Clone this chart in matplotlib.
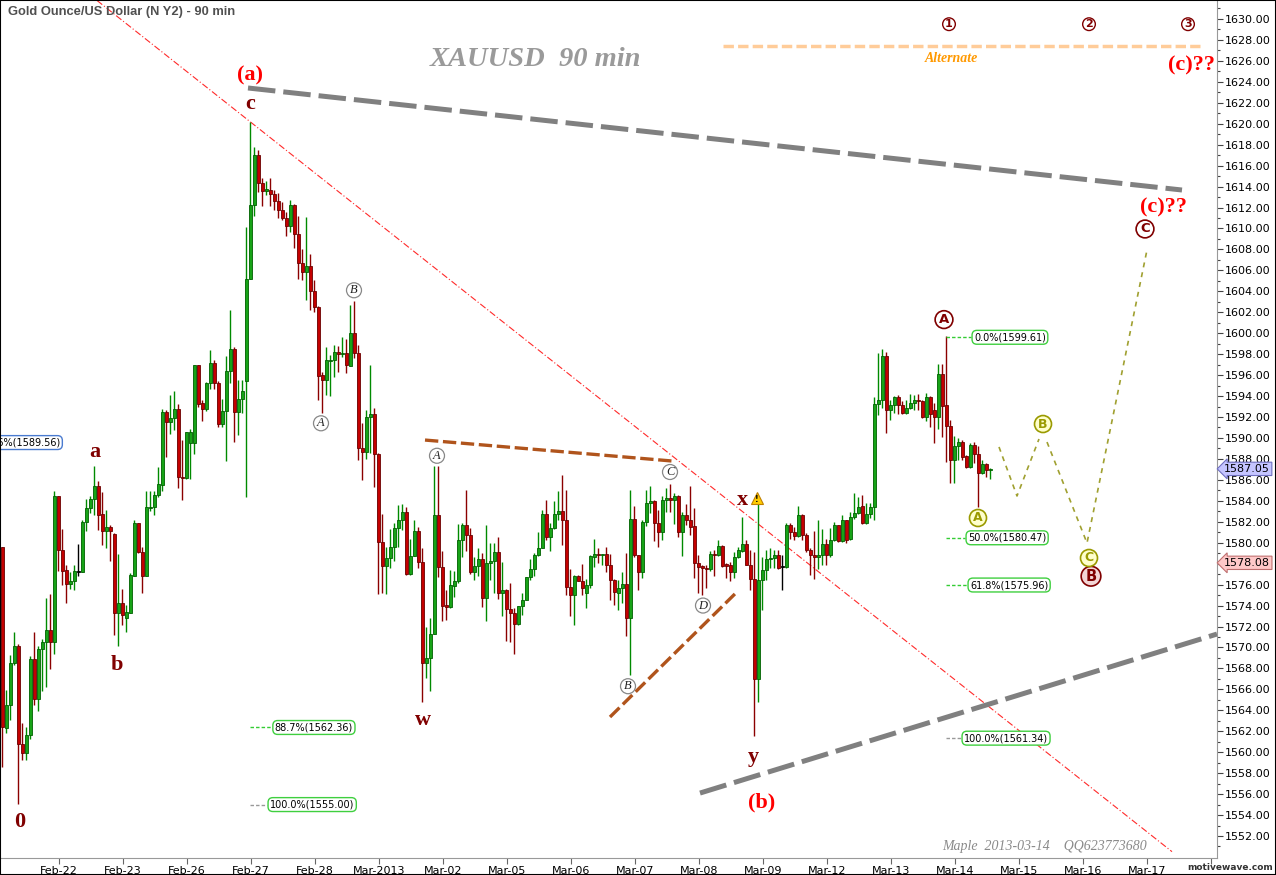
import numpy as np
import matplotlib
matplotlib.use('Agg')
import matplotlib.pyplot as plt
from matplotlib.patches import Rectangle
from matplotlib.transforms import blended_transform_factory

# 90-minute candles (one per bar, left to right)
opens = [1579.6, 1562.3, 1564.5, 1568.5, 1570.1, 1560.8, 1559.9, 1561.6, 1568.9, 1565.1,
         1569.9, 1570.5, 1571.7, 1570.5, 1584.5, 1579.3, 1577.4, 1576.1, 1576.3, 1577.2,
         1577.2, 1582.0, 1583.3, 1584.2, 1585.4, 1582.7, 1581.1, 1581.5, 1580.8, 1573.3,
         1574.2, 1572.8, 1573.3, 1576.8, 1581.9, 1579.1, 1576.8, 1583.3, 1583.4, 1584.6,
         1585.5, 1592.5, 1591.5, 1591.9, 1592.8, 1586.3, 1586.2, 1589.5, 1589.5, 1597.0,
         1593.3, 1592.8, 1595.2, 1597.2, 1595.2, 1591.3, 1592.6, 1596.4, 1598.5, 1592.5,
         1593.7, 1595.4, 1605.2, 1612.2, 1617.0, 1614.3, 1613.6, 1613.7, 1613.3, 1612.6,
         1611.8, 1611.0, 1610.2, 1612.2, 1609.5, 1606.7, 1605.8, 1606.4, 1604.0, 1602.5,
         1596.0, 1595.5, 1597.3, 1597.4, 1598.2, 1598.0, 1598.1, 1596.9, 1600.0, 1598.1,
         1589.0, 1588.7, 1592.0, 1592.3, 1588.5, 1580.1, 1577.8, 1578.5, 1579.6, 1581.4,
         1582.2, 1582.9, 1577.0, 1578.7, 1581.1, 1578.2, 1568.5, 1569.0, 1571.3, 1582.6,
         1577.7, 1574.0, 1573.9, 1575.9, 1576.3, 1580.3, 1581.7, 1580.7, 1577.2, 1577.8,
         1578.4, 1574.7, 1578.1, 1578.3, 1579.1, 1575.2, 1575.5, 1573.7, 1573.3, 1572.2,
         1574.0, 1574.5, 1576.7, 1577.5, 1578.8, 1579.5, 1582.7, 1580.5, 1581.4, 1582.7,
         1583.0, 1582.2, 1575.8, 1575.0, 1576.8, 1576.3, 1575.2, 1576.0, 1578.6, 1578.9,
         1578.8, 1578.9, 1577.9, 1576.4, 1575.2, 1575.7, 1576.1, 1572.8, 1582.3, 1578.8,
         1577.2, 1582.0, 1583.8, 1584.0, 1581.9, 1581.0, 1584.1, 1584.3, 1584.1, 1584.5,
         1581.0, 1582.6, 1582.2, 1581.6, 1578.1, 1577.8, 1577.6, 1577.5, 1578.9, 1578.8,
         1579.7, 1577.9, 1577.9, 1577.2, 1578.6, 1579.2, 1579.9, 1577.9, 1576.5, 1567.0,
         1576.4, 1577.4, 1578.4, 1578.5, 1578.8, 1577.65, 1577.7, 1581.7, 1581.0, 1580.6,
         1582.6, 1580.7, 1579.3, 1578.8, 1578.6, 1578.8, 1579.9, 1578.8, 1580.3, 1581.7,
         1580.2, 1582.2, 1580.4, 1582.5, 1582.8, 1583.5, 1581.9, 1582.7, 1583.4, 1593.2,
         1593.6, 1597.8, 1592.7, 1593.1, 1593.9, 1593.1, 1592.4, 1592.9, 1593.3, 1593.6,
         1593.5, 1592.0, 1593.9, 1592.7, 1592.0, 1596.1, 1593.1, 1591.1, 1587.9, 1589.2,
         1589.6, 1588.3, 1587.2, 1589.3, 1588.5, 1586.7, 1587.5, 1586.9]
highs = [1579.6, 1565.9, 1569.3, 1571.5, 1570.3, 1562.8, 1562.4, 1569.2, 1571.5, 1570.1,
         1570.8, 1574.7, 1575.1, 1584.9, 1584.5, 1581.3, 1577.9, 1577.2, 1577.9, 1579.9,
         1582.2, 1584.2, 1584.5, 1587.3, 1585.9, 1584.8, 1583.1, 1581.7, 1580.9, 1578.9,
         1575.6, 1574.1, 1577.1, 1582.2, 1581.9, 1579.6, 1584.9, 1584.9, 1584.9, 1587.2,
         1592.8, 1592.7, 1594.1, 1594.5, 1593.2, 1589.8, 1590.6, 1590.9, 1597.0, 1597.0,
         1593.6, 1595.3, 1598.4, 1597.4, 1595.4, 1593.7, 1597.8, 1602.2, 1598.7, 1595.5,
         1595.5, 1610.1, 1620.2, 1617.8, 1617.5, 1614.8, 1614.5, 1614.8, 1613.7, 1613.4,
         1612.5, 1611.6, 1612.7, 1612.3, 1611.2, 1608.0, 1611.1, 1607.6, 1605.1, 1602.6,
         1596.3, 1598.7, 1597.9, 1598.9, 1598.8, 1599.6, 1599.4, 1602.7, 1603.1, 1598.9,
         1591.4, 1592.7, 1597.0, 1592.9, 1588.6, 1582.7, 1579.6, 1581.3, 1581.9, 1583.6,
         1583.7, 1583.4, 1580.4, 1582.2, 1581.5, 1579.5, 1572.0, 1572.8, 1587.3, 1587.3,
         1579.2, 1575.5, 1577.4, 1577.3, 1581.8, 1581.9, 1585.0, 1581.4, 1578.6, 1579.5,
         1579.0, 1581.7, 1580.0, 1580.0, 1580.5, 1578.2, 1575.6, 1576.2, 1573.8, 1574.0,
         1575.2, 1576.7, 1578.4, 1579.0, 1581.0, 1583.1, 1584.1, 1581.9, 1584.0, 1584.9,
         1586.5, 1585.0, 1577.5, 1576.9, 1576.9, 1578.0, 1576.5, 1578.8, 1580.4, 1579.5,
         1578.9, 1579.6, 1578.9, 1576.5, 1576.4, 1577.2, 1579.0, 1585.0, 1583.5, 1578.8,
         1582.2, 1585.0, 1585.4, 1584.1, 1583.1, 1584.5, 1585.2, 1585.6, 1584.7, 1584.6,
         1582.9, 1583.7, 1585.4, 1583.3, 1578.8, 1577.9, 1577.9, 1579.2, 1579.3, 1580.3,
         1579.8, 1578.1, 1578.2, 1579.1, 1579.6, 1582.5, 1580.3, 1579.3, 1579.1, 1583.8,
         1578.6, 1579.3, 1579.5, 1579.3, 1579.3, 1578.8, 1581.9, 1581.9, 1581.5, 1583.5,
         1582.7, 1580.9, 1579.5, 1581.1, 1582.2, 1581.3, 1580.4, 1581.4, 1582.0, 1581.7,
         1582.6, 1582.2, 1582.9, 1584.7, 1584.4, 1584.6, 1583.8, 1583.8, 1593.9, 1598.1,
         1598.5, 1598.2, 1593.6, 1594.0, 1594.1, 1593.5, 1593.6, 1594.2, 1594.1, 1594.2,
         1593.6, 1594.3, 1594.0, 1593.3, 1597.1, 1597.1, 1599.7, 1591.7, 1590.2, 1590.0,
         1589.8, 1588.4, 1589.5, 1589.6, 1589.2, 1587.9, 1587.6, 1587.1]
lows = [1558.6, 1561.8, 1563.1, 1568.3, 1555.1, 1559.3, 1559.3, 1561.3, 1564.5, 1563.9,
        1565.8, 1566.2, 1567.9, 1569.4, 1577.3, 1576.0, 1574.2, 1575.6, 1575.5, 1576.8,
        1577.2, 1581.1, 1582.8, 1582.6, 1581.2, 1579.8, 1579.5, 1578.3, 1571.2, 1570.1,
        1572.1, 1571.5, 1573.3, 1576.8, 1579.0, 1575.2, 1576.8, 1583.0, 1582.6, 1584.4,
        1584.9, 1588.2, 1590.4, 1590.8, 1585.2, 1584.1, 1586.1, 1586.1, 1588.5, 1593.0,
        1591.6, 1592.6, 1594.7, 1594.7, 1591.0, 1591.0, 1587.8, 1595.2, 1589.6, 1590.3,
        1592.4, 1584.4, 1605.2, 1611.2, 1613.5, 1612.1, 1613.2, 1612.1, 1611.8, 1611.0,
        1610.8, 1609.3, 1609.7, 1608.1, 1605.2, 1605.1, 1603.2, 1602.2, 1602.0, 1593.6,
        1592.4, 1594.1, 1594.0, 1595.8, 1596.3, 1597.7, 1596.2, 1596.9, 1597.6, 1587.9,
        1586.0, 1588.0, 1588.6, 1585.3, 1575.1, 1575.2, 1575.1, 1577.6, 1578.3, 1579.6,
        1581.2, 1576.9, 1576.9, 1578.7, 1577.6, 1564.8, 1567.1, 1565.8, 1571.3, 1576.7,
        1572.5, 1572.6, 1573.8, 1574.8, 1576.2, 1578.6, 1579.2, 1577.0, 1576.4, 1576.8,
        1573.9, 1572.5, 1576.4, 1575.2, 1574.6, 1573.0, 1570.6, 1570.5, 1569.4, 1572.1,
        1573.1, 1574.5, 1576.4, 1576.8, 1578.7, 1579.5, 1580.3, 1579.2, 1581.3, 1582.2,
        1579.8, 1575.0, 1573.0, 1572.1, 1576.3, 1575.0, 1573.8, 1575.7, 1577.7, 1578.1,
        1577.9, 1577.2, 1574.5, 1574.1, 1573.6, 1574.2, 1571.1, 1567.4, 1578.6, 1575.5,
        1576.6, 1581.6, 1582.8, 1580.2, 1579.6, 1580.3, 1582.9, 1582.9, 1581.8, 1580.5,
        1578.7, 1581.7, 1580.7, 1576.6, 1575.2, 1575.0, 1575.7, 1577.3, 1576.8, 1578.7,
        1577.7, 1576.6, 1576.3, 1576.6, 1578.5, 1579.1, 1577.9, 1575.5, 1561.5, 1564.8,
        1573.6, 1576.4, 1577.6, 1577.6, 1577.5, 1575.5, 1577.6, 1580.4, 1580.3, 1580.5,
        1580.3, 1579.1, 1576.9, 1576.5, 1577.5, 1577.9, 1577.9, 1578.6, 1580.2, 1580.1,
        1580.1, 1580.0, 1580.3, 1582.3, 1582.7, 1581.8, 1581.8, 1582.4, 1582.2, 1592.2,
        1592.9, 1590.5, 1591.7, 1592.4, 1592.3, 1592.3, 1592.3, 1592.8, 1592.7, 1592.7,
        1591.9, 1591.6, 1591.0, 1589.5, 1590.9, 1590.1, 1587.7, 1585.7, 1585.7, 1587.9,
        1587.9, 1587.1, 1587.1, 1587.6, 1583.4, 1586.6, 1586.3, 1586.1]
closes = [1562.4, 1564.5, 1568.5, 1570.1, 1560.8, 1559.9, 1561.6, 1568.9, 1565.1, 1569.9,
          1570.5, 1571.7, 1570.5, 1584.5, 1579.3, 1577.3, 1576.1, 1576.3, 1577.3, 1577.2,
          1582.0, 1583.3, 1584.2, 1585.4, 1582.6, 1581.1, 1581.5, 1581.1, 1573.3, 1574.2,
          1573.1, 1573.4, 1576.9, 1581.9, 1579.1, 1576.8, 1583.4, 1583.4, 1584.6, 1585.6,
          1592.5, 1591.5, 1591.9, 1592.8, 1586.3, 1586.2, 1590.6, 1590.6, 1597.0, 1593.2,
          1592.8, 1595.2, 1597.2, 1595.2, 1591.3, 1592.6, 1596.4, 1598.5, 1592.5, 1593.7,
          1594.5, 1605.2, 1612.2, 1617.0, 1614.3, 1613.6, 1613.7, 1613.3, 1612.6, 1611.8,
          1611.0, 1610.2, 1612.2, 1609.5, 1606.7, 1605.8, 1606.4, 1604.0, 1602.5, 1595.9,
          1595.5, 1597.4, 1597.35, 1598.2, 1598.0, 1598.1, 1597.0, 1600.0, 1598.1, 1589.0,
          1588.7, 1592.0, 1592.3, 1588.5, 1580.1, 1577.8, 1578.5, 1579.6, 1581.4, 1582.2,
          1582.9, 1577.0, 1578.7, 1581.1, 1578.2, 1568.5, 1569.0, 1571.3, 1582.6, 1577.7,
          1574.0, 1573.9, 1576.0, 1576.3, 1580.3, 1581.7, 1580.7, 1577.2, 1577.8, 1578.4,
          1574.7, 1578.1, 1578.3, 1579.1, 1575.2, 1575.5, 1573.7, 1573.3, 1572.2, 1574.0,
          1574.5, 1576.7, 1577.5, 1578.8, 1579.5, 1582.7, 1580.5, 1581.4, 1582.7, 1583.0,
          1582.2, 1575.8, 1575.0, 1576.8, 1576.3, 1575.7, 1576.0, 1578.7, 1578.9, 1578.8,
          1578.9, 1577.9, 1576.4, 1575.3, 1575.7, 1576.1, 1572.8, 1582.3, 1578.8, 1577.2,
          1582.0, 1583.8, 1584.0, 1581.9, 1581.0, 1584.1, 1584.3, 1584.1, 1584.5, 1581.0,
          1582.6, 1582.2, 1581.5, 1578.1, 1577.7, 1577.6, 1577.5, 1578.9, 1578.8, 1579.7,
          1577.8, 1577.8, 1577.2, 1578.6, 1579.3, 1579.9, 1577.9, 1576.5, 1567.0, 1576.4,
          1577.4, 1578.4, 1578.5, 1578.8, 1577.6, 1577.65, 1581.7, 1581.0, 1580.6, 1582.6,
          1580.7, 1579.3, 1578.8, 1578.6, 1578.8, 1579.9, 1578.8, 1580.3, 1581.7, 1580.2,
          1582.2, 1580.3, 1582.5, 1582.8, 1583.4, 1581.9, 1582.7, 1583.4, 1593.2, 1593.6,
          1597.8, 1592.7, 1593.1, 1593.9, 1593.1, 1592.4, 1592.9, 1593.3, 1593.6, 1593.5,
          1592.0, 1593.9, 1592.3, 1592.0, 1596.1, 1593.05, 1591.1, 1587.9, 1589.2, 1589.6,
          1588.2, 1587.2, 1589.3, 1588.5, 1586.7, 1587.5, 1586.9, 1587.05]
opens[19] = closes[19]  # doji drawn in black

day_labels = ['Feb-22', 'Feb-23', 'Feb-26', 'Feb-27', 'Feb-28', 'Mar-2013', 'Mar-02',
              'Mar-05', 'Mar-06', 'Mar-07', 'Mar-08', 'Mar-09', 'Mar-12', 'Mar-13',
              'Mar-14', 'Mar-15', 'Mar-16', 'Mar-17', '']

fib_right = [('0.0%', 1599.61), ('50.0%', 1580.47), ('61.8%', 1575.96), ('100.0%', 1561.34)]
fib_left = [('88.7%', 1562.36), ('100.0%', 1555.00)]
fib_cut = ('78.6%', 1589.56)
last_price = 1587.05
bid_price = 1578.08

# trend / channel lines, as (bar index, price) pairs
red_line = [(62, 1620.2), (172, 1586.94)]
upper_channel = [(61.5, 1623.41), (295, 1613.67)]
lower_channel = [(174.5, 1556.1), (303.75, 1571.28)]
triangle_top = [(105.75, 1589.8), (167.5, 1587.8)]
triangle_bottom = [(152, 1563.36), (184, 1575.4)]
alt_line = [(180.25, 1627.42), (299.5, 1627.42)]
proj_1 = [(249.25, 1589.14), (253.75, 1584.46), (259.25, 1589.90)]
proj_2 = [(261.25, 1589.61), (271.25, 1579.97), (286.25, 1607.95)]

W, H = 1276, 875
fig = plt.figure(figsize=(W / 100, H / 100), dpi=100)
fig.patch.set_facecolor('white')
ax = fig.add_axes([0, 17 / H, 1217 / W, 858 / H])
ax.set_xlim(-0.5, 303.75)
ax.set_ylim(1549.9, 1631.81)

o = np.array(opens); h = np.array(highs); l = np.array(lows); c = np.array(closes)
x = np.arange(len(o))
lo = np.minimum(o, c)
bh = np.maximum(np.abs(c - o), 0.12)
groups = [(c > o, '#17a317', '#006000', '#008a00'),
          (c < o, '#c40000', '#6a0000', '#8b0000'),
          (c == o, '#000000', '#000000', '#000000')]
for m, fc, ec, wc in groups:
    ax.vlines(x[m], l[m], h[m], color=wc, lw=1.0, zorder=3)
    ax.bar(x[m], bh[m], bottom=lo[m], width=0.75, color=fc, edgecolor=ec,
           linewidth=0.6, zorder=4)

def seg(pts, **kw):
    xs, ys = zip(*pts)
    ax.plot(xs, ys, **kw)

# red trend line, extended across the chart
(x1, y1), (x2, y2) = red_line
sl = (y2 - y1) / (x2 - x1)
xe = np.array([23.75, 292.5])
ax.plot(xe, y1 + sl * (xe - x1), color='#ff2a2a', lw=0.8, dashes=(6, 2, 1, 2), zorder=2)

seg(upper_channel, color='#808080', lw=3.6, dashes=(5.5, 1.6), zorder=5)
seg(lower_channel, color='#808080', lw=3.6, dashes=(5.5, 1.6), zorder=5)
seg(triangle_top, color='#b0541c', lw=2.4, dashes=(4, 1.4), zorder=5)
seg(triangle_bottom, color='#b0541c', lw=2.4, dashes=(4, 1.4), zorder=5)
seg(alt_line, color='#ffcc99', lw=2.5, dashes=(3, 1.2), zorder=2)
seg(proj_1, color='#a0a030', lw=1.2, dashes=(3, 3), zorder=2)
seg(proj_2, color='#a0a030', lw=1.2, dashes=(3, 3), zorder=2)

# fibonacci markers
box_green = dict(boxstyle='round,pad=0.2,rounding_size=0.5', fc='white', ec='#3fcf3f', lw=1)
for (name, val), tx in zip(fib_right, [243, 241.5, 242, 240.5]):
    col = '#999999' if name == '100.0%' else '#33cc33'
    ax.plot([236, tx - 0.8], [val, val], color=col, lw=1, dashes=(2.5, 1.5), zorder=5)
    ax.text(tx, val, f'{name}({val:.2f})', fontsize=7, ha='left', va='center',
            bbox=box_green, zorder=6)
for (name, val), tx in zip(fib_left, [68.2, 67]):
    col = '#999999' if name == '100.0%' else '#33cc33'
    ax.plot([62, tx - 0.8], [val, val], color=col, lw=1, dashes=(2.5, 1.5), zorder=5)
    ax.text(tx, val, f'{name}({val:.2f})', fontsize=7, ha='left', va='center',
            bbox=box_green, zorder=6)
# this box runs off the left edge in the original, so it is clipped the same way
ax.text(14.6, fib_cut[1], f'{fib_cut[0]}({fib_cut[1]:.2f})', fontsize=7, ha='right',
        va='center', clip_on=True, zorder=6,
        bbox=dict(boxstyle='round,pad=0.2,rounding_size=0.5', fc='white', ec='#4a7bd0', lw=1))

# wave labels
serif = 'Liberation Serif'
dred = '#800000'
for s, xx, yy in [('c', 62, 1621.9), ('a', 23.25, 1588.7), ('b', 28.75, 1568.3),
                  ('0', 4.5, 1553.3), ('w', 105.25, 1563.1), ('x', 185, 1584.1),
                  ('y', 187.75, 1559.5)]:
    ax.text(xx, yy, s, family=serif, fontweight='bold', fontsize=16, color=dred,
            ha='center', va='center', zorder=7)
for s, xx, yy, ha in [('(a)', 62, 1624.65, 'center'), ('(b)', 190, 1555.2, 'center'),
                      ('(c)??', 290.3, 1612.0, 'center'), ('(c)??', 291.5, 1625.6, 'left')]:
    ax.text(xx, yy, s, family=serif, fontweight='bold', fontsize=16, color='#ff0000',
            ha=ha, va='center', clip_on=True, zorder=7)

def circled(s, xx, yy, col, fc='white', size=9, style='normal', weight='bold',
            ec=None, lw=1.2, family='DejaVu Sans', pad=0.12):
    ax.text(xx, yy, s, fontsize=size, color=col, ha='center', va='center',
            fontstyle=style, fontweight=weight, family=family, zorder=8,
            bbox=dict(boxstyle=f'circle,pad={pad}', fc=fc, ec=ec or col, lw=lw))

circled('A', 235.5, 1601.3, dred, size=9.5, pad=0.18)
circled('C', 285.75, 1609.95, dred, size=9.5, pad=0.18)
circled('B', 272.25, 1576.8, dred, fc='#f3d6d6', size=10.5, pad=0.16)
circled('A', 244, 1582.36, '#9a9a00', fc='#ffffcc', size=9, pad=0.16)
circled('B', 260.25, 1591.33, '#9a9a00', fc='#ffffcc', size=9, pad=0.16)
circled('C', 271.75, 1578.54, '#9a9a00', fc='#ffffcc', size=9, pad=0.16)
for s, xx in [('1', 236.75), ('2', 271.75), ('3', 296.5)]:
    circled(s, xx, 1629.5, dred, size=8, lw=1)
for s, xx, yy in [('B', 88, 1604.1), ('A', 79.75, 1591.4), ('A', 108.75, 1588.3),
                  ('C', 167, 1586.75), ('D', 175.25, 1574.0), ('B', 156.5, 1566.3)]:
    circled(s, xx, yy, '#222222', size=9, style='italic', weight='normal',
            ec='#888888', lw=0.9, family=serif)

# warning icon next to x
ax.plot(188.75, 1584.3, marker='^', ms=9, mfc='#ffcc00', mec='#c08000', mew=0.8, zorder=8)
ax.text(188.75, 1584.1, '!', fontsize=5.5, fontweight='bold', ha='center', va='center', zorder=9)

ax.text(133.25, 1626.1, 'XAUUSD  90 min', family=serif, fontsize=20.5, fontweight='bold',
        fontstyle='italic', color='#9a9a9a', ha='center', va='center')
ax.text(237.25, 1626.2, 'Alternate', family=serif, fontsize=10, fontweight='bold',
        fontstyle='italic', color='#ff9900', ha='center', va='center')
ax.text(260.75, 1551.0, 'Maple  2013-03-14    QQ623773680', family=serif, fontsize=10,
        fontstyle='italic', color='#8a8a8a', ha='center', va='center')

# axes styling
for sp in ['top', 'left']:
    ax.spines[sp].set_visible(False)
for sp in ['bottom', 'right']:
    ax.spines[sp].set_color('#999999')
ax.set_xticks(14.25 + 16 * np.arange(len(day_labels)))
ax.set_xticklabels(day_labels)
ax.tick_params(axis='x', direction='out', length=4, width=0.8, color='#666666',
               labelsize=8, pad=1.5)
ax.yaxis.tick_right()
ax.set_yticks(np.arange(1552, 1631, 2))
ax.set_yticklabels([f'{v:.2f}' for v in np.arange(1552, 1631, 2)])
ax.set_yticks(np.arange(1551, 1632, 2), minor=True)
ax.tick_params(axis='y', which='major', direction='out', length=4, width=0.8,
               color='#444444', labelsize=8, pad=1.5)
ax.tick_params(axis='y', which='minor', direction='out', length=2.5, width=0.8, color='#444444')

ytr = blended_transform_factory(ax.transAxes, ax.transData)
ax.text(1.006, last_price, f'{last_price:.2f}', transform=ytr, fontsize=8, ha='left',
        va='center', clip_on=False, zorder=10,
        bbox=dict(boxstyle='larrow,pad=0.15', fc='#c4c4ff', ec='#7070c0', lw=0.8))
ax.text(1.006, bid_price, f'{bid_price:.2f}', transform=ytr, fontsize=8, ha='left',
        va='center', clip_on=False, zorder=10,
        bbox=dict(boxstyle='larrow,pad=0.15', fc='#ffc8c8', ec='#c07070', lw=0.8))

fig.text(8 / W, 1 - 12 / H, 'Gold Ounce/US Dollar (N Y2) - 90 min', family='Liberation Sans',
         fontweight='bold', fontsize=9.3, color='#505050', ha='left', va='center')
fig.text(1 - 3 / W, 7 / H, 'motivewave.com', fontsize=6.5, fontweight='bold', color='#333333',
         ha='right', va='center')
fig.patches.append(Rectangle((0, 0), 1, 1, transform=fig.transFigure, fill=False,
                             ec='black', lw=1.5))

fig.savefig('out.png', dpi=100, facecolor='white')
